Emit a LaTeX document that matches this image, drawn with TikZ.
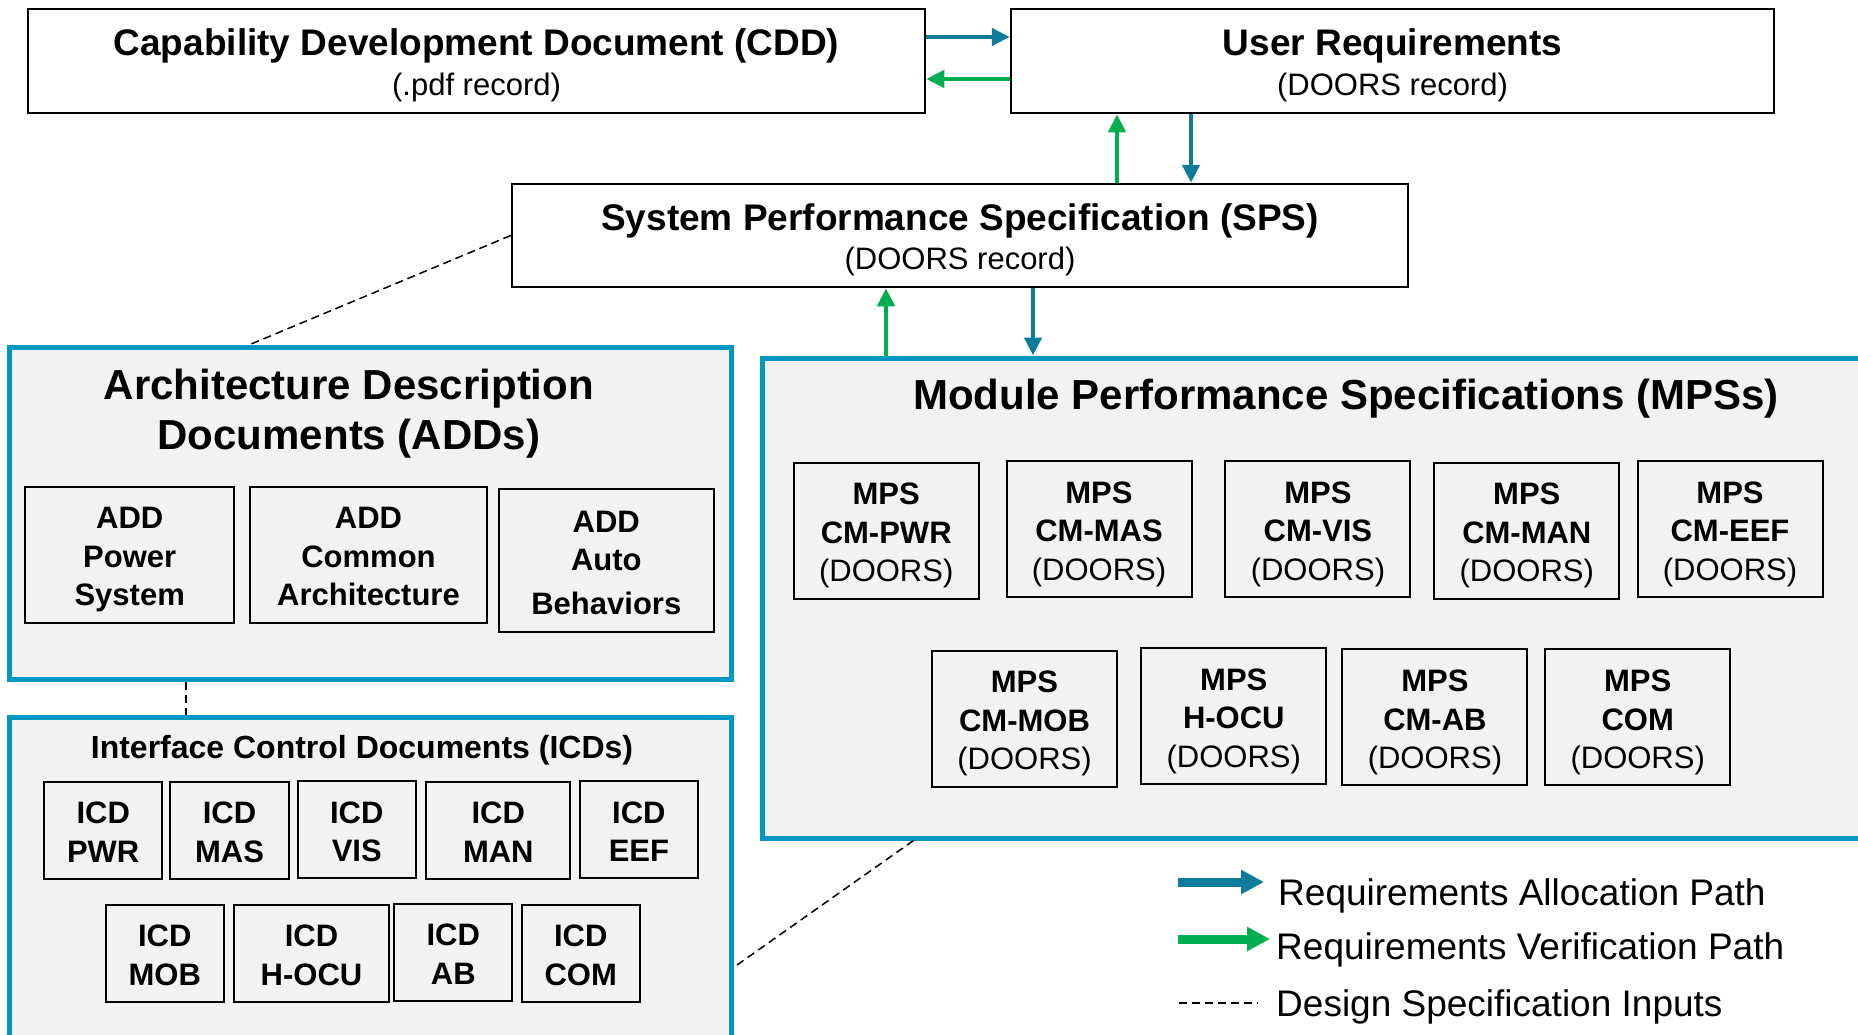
\documentclass[tikz,border=0pt]{standalone}
\usepackage{fontspec}
\setmainfont{Liberation Sans}
\usetikzlibrary{arrows.meta}

\definecolor{alloc}{HTML}{0F7B9C}
\definecolor{verif}{HTML}{00B050}
\definecolor{frameblue}{HTML}{0098C3}
\definecolor{panelgray}{HTML}{F2F2F2}

% fixed first-line height / last-line depth in the small boxes
\newcommand{\boxtop}{\rule{0pt}{32.5pt}}
\newcommand{\boxbot}{\rule[-7pt]{0pt}{7pt}}

\tikzset{
  docbox/.style={draw=black, line width=2.5pt, fill=white, inner sep=0pt},
  panel/.style={draw=frameblue, line width=5pt, fill=panelgray, inner sep=0pt},
  subbox/.style={draw=black, line width=2pt, fill=panelgray, inner sep=0pt, align=center,
    font=\fontsize{31}{38.5}\selectfont\bfseries},
  allocpath/.style={draw=alloc, line width=4.5pt, -{Triangle[length=18pt,width=17pt]}},
  verifpath/.style={draw=verif, line width=4.5pt, -{Triangle[length=18pt,width=17pt]}},
  legendtip/.style={line width=9pt, -{Triangle[length=23pt,width=23pt]}},
  designpath/.style={line width=1.5pt, dash pattern=on 8pt off 5pt},
  bigtitle/.style={font=\fontsize{37}{44}\selectfont\bfseries, inner sep=0pt},
  subtitle/.style={font=\fontsize{31}{37}\selectfont, inner sep=0pt},
  paneltitle/.style={font=\fontsize{42}{50}\selectfont\bfseries, inner sep=0pt, align=center},
  legendtext/.style={font=\fontsize{37}{44}\selectfont, inner sep=0pt, anchor=west}
}

\begin{document}
\begin{tikzpicture}[x=1pt, y=-1pt]
\useasboundingbox (0,0) rectangle (1858,1034);
\clip (0,0) rectangle (1858,1034);

% Верхние документы
\node[docbox, minimum width=897pt, minimum height=104pt] (cdd) at (476.5,61) {};
\node[bigtitle] (cdd-t) at (476.5,45.5) {Capability Development Document (CDD)};
\node[subtitle] (cdd-s) at (476.5,87.5) {(.pdf record)};

\node[docbox, minimum width=763pt, minimum height=104pt] (ur) at (1392.5,61) {};
\node[bigtitle] (ur-t) at (1392.5,45.5) {User Requirements};
\node[subtitle] (ur-s) at (1392.5,87.5) {(DOORS record)};

\node[docbox, minimum width=896pt, minimum height=103pt] (sps) at (960,235.5) {};
\node[bigtitle] (sps-t) at (960,221) {System Performance Specification (SPS)};
\node[subtitle] (sps-s) at (960,261.5) {(DOORS record)};

% Панели
\node[panel, minimum width=722pt, minimum height=332pt] (add) at (370,513) {};
\node[panel, minimum width=722pt, minimum height=343pt] (icd) at (370,888.5) {};
\node[panel, minimum width=1118pt, minimum height=480pt] (mps) at (1321,598) {};

\node[paneltitle] (add-t) at (349,414) {Architecture Description\\Documents (ADDs)};
\node[paneltitle] (mps-t) at (1346,398.5) {Module Performance Specifications (MPSs)};
\node[paneltitle, font=\fontsize{32}{38}\selectfont\bfseries] (icd-t) at (362,750) {Interface Control Documents (ICDs)};

% ADD
\node[subbox, minimum width=208.6pt, minimum height=136pt] (add-pwr) at (129.7,554.7) {\boxtop ADD\\Power\\System\boxbot};
\node[subbox, minimum width=237pt, minimum height=136pt] (add-com) at (368.5,554.7) {\boxtop ADD\\Common\\Architecture\boxbot};
\node[subbox, minimum width=215.4pt, minimum height=142.7pt] (add-auto) at (606.3,560.3) {\boxtop ADD\\Auto\\[5pt]Behaviors\boxbot};

% MPS
\foreach \x/\y/\n/\t in {886.2/530.7/pwr/CM-PWR, 1099/529/mas/CM-MAS, 1317.9/529/vis/CM-VIS,
    1526.8/530.7/man/CM-MAN, 1730/529/eef/CM-EEF, 1024.5/718.7/mob/CM-MOB,
    1233.8/716/hocu/H-OCU, 1434.9/717.3/ab/CM-AB, 1637.7/717.3/com/COM}
  \node[subbox, minimum width=185pt, minimum height=136pt] (mps-\n) at (\x,\y) {\boxtop MPS\\\t\\{\mdseries (DOORS)}\boxbot};

% ICD
\foreach \x/\y/\w/\n in {103.2/830.3/118/PWR, 229.5/830.3/119/MAS, 356.8/829.5/118/VIS,
    498.3/830.3/144/MAN, 638.9/829.5/118/EEF, 164.8/953/118/MOB,
    311.5/953/155/H-OCU, 453.3/952/118/AB, 580.7/953/118/COM}
  \node[subbox, minimum width=\w pt, minimum height=97pt] (icd-\n) at (\x,\y) {\boxtop ICD\\\n\boxbot};

% Стрелки
\draw[allocpath] ([yshift=24pt]cdd.east) -- ([yshift=24pt]ur.west);
\draw[verifpath] ([yshift=-18pt]ur.west) -- ([yshift=-18pt]cdd.east);
\draw[verifpath] ([xshift=157pt]sps.north) -- ([xshift=157pt]sps.north |- ur.south);
\draw[allocpath] ([xshift=231pt]sps.north |- ur.south) -- ([xshift=231pt]sps.north);
\draw[verifpath] ([xshift=-74pt]sps.south |- mps.north) -- ([xshift=-74pt]sps.south);
\draw[allocpath] ([xshift=73pt]sps.south) -- ([xshift=73pt]sps.south |- mps.north);

% Пунктир
\draw[designpath] (sps.west) -- ([xshift=-120pt]add.north);
\draw[designpath] ([xshift=-184pt]add.south) -- ([xshift=-184pt]add.south |- icd.north);
\draw[designpath] ([xshift=154pt]mps.south west) -- ([yshift=-253pt]icd.north east);

% Легенда
\coordinate (la-s) at (1178,882);
\coordinate (la-e) at (1264,882);
\coordinate (lv-s) at (1178,939);
\coordinate (lv-e) at (1270,939);
\coordinate (ld-s) at (1179,1003);
\coordinate (ld-e) at (1258,1003);
\draw[allocpath, legendtip] (la-s) -- (la-e);
\draw[verifpath, legendtip] (lv-s) -- (lv-e);
\draw[designpath] (ld-s) -- (ld-e);
\node[legendtext] (leg-alloc) at (1278,895.5) {Requirements Allocation Path};
\node[legendtext] (leg-verif) at (1276,949.5) {Requirements Verification Path};
\node[legendtext] (leg-design) at (1276,1007) {Design Specification Inputs};
\end{tikzpicture}
\end{document}
